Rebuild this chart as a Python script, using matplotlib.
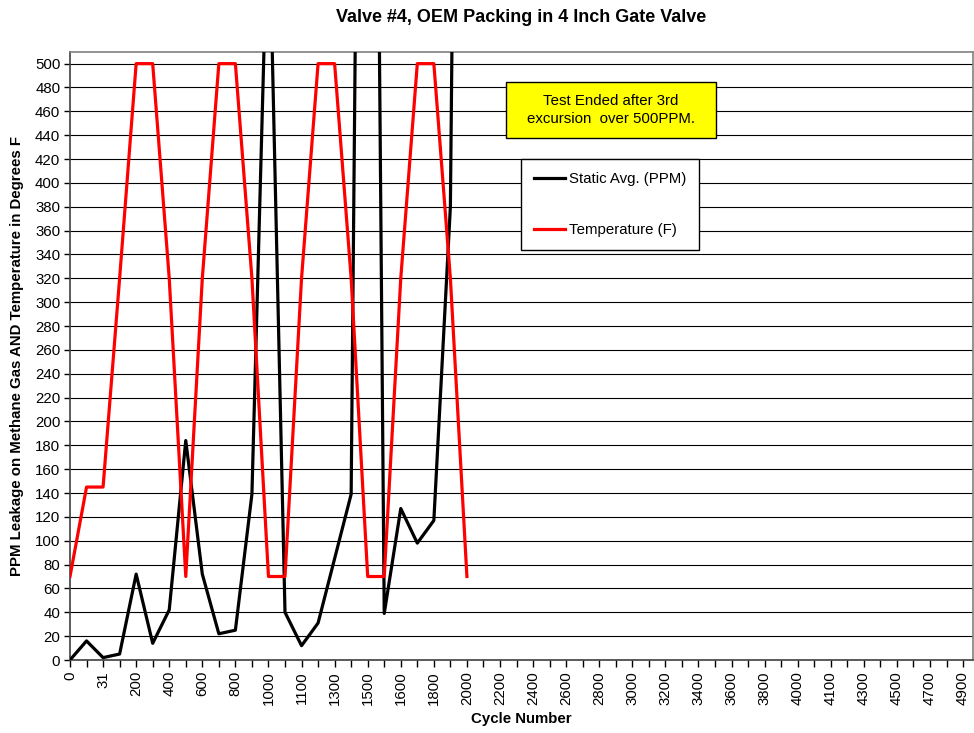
import numpy as np
import matplotlib
matplotlib.use('Agg')
import matplotlib.pyplot as plt
from matplotlib.patches import Rectangle

plt.rcParams['font.family'] = ['Liberation Sans', 'DejaVu Sans']

# category labels along the x axis (every other one is shown)
cycles = ['0', '15', '31', '100', '200', '300', '400', '500', '600', '700',
          '800', '900', '1000', '1050', '1100', '1200', '1300', '1400', '1500', '1550',
          '1600', '1700', '1800', '1900', '2000', '2100', '2200', '2300', '2400', '2500',
          '2600', '2700', '2800', '2900', '3000', '3100', '3200', '3300', '3400', '3500',
          '3600', '3700', '3800', '3900', '4000', '4050', '4100', '4200', '4300', '4400',
          '4500', '4600', '4700', '4800', '4900']

static_avg = [0, 16, 2, 5, 72, 14, 42, 184, 72, 22,
              25, 139, 650, 40, 12, 31, 85, 139, 1670, 39,
              127, 98, 117, 380, 1800]
temperature = [70, 145, 145, 320, 500, 500, 320, 70, 320, 500,
               500, 320, 70, 70, 320, 500, 500, 320, 70, 70,
               320, 500, 500, 320, 70]

FS = 10.8
W, H = 974, 733
fig = plt.figure(figsize=(W/100, H/100), dpi=100)
ax = fig.add_axes([70/W, (H-660)/H, (973-70)/W, (660-51.7)/H])

x = np.arange(len(static_avg))
ax.plot(x, static_avg, color='black', lw=2.3, label='Static Avg. (PPM)', zorder=3)
ax.plot(x, temperature, color='#ff0000', lw=2.3, label='Temperature (F)', zorder=3)

ax.set_xlim(0, 54.6)
ax.set_ylim(0, 510)
ax.set_yticks(np.arange(0, 501, 20))
ax.yaxis.grid(True, color='black', lw=0.8)
ax.set_axisbelow(True)

ax.set_xticks(np.arange(len(cycles)))
ax.set_xticklabels([c if i % 2 == 0 else '' for i, c in enumerate(cycles)],
                   rotation=90, fontsize=FS)
ax.tick_params(axis='y', labelsize=FS, length=4, width=1, direction='out', pad=3)
ax.tick_params(axis='x', length=5, width=1, direction='out', pad=3)

for s in ['top', 'right']:
    ax.spines[s].set_color('#808080')
ax.spines['left'].set_color('#404040')
ax.spines['bottom'].set_color('#404040')
for s in ax.spines.values():
    s.set_linewidth(1.2)

ax.set_xlabel('Cycle Number', fontsize=FS, fontweight='bold', labelpad=5)
ax.set_ylabel('PPM Leakage on Methane Gas AND Temperature in Degrees F',
              fontsize=FS, fontweight='bold', labelpad=8)
fig.text(521/W, 1-17/H, 'Valve #4, OEM Packing in 4 Inch Gate Valve',
         ha='center', va='center', fontsize=13, fontweight='bold')

leg = ax.legend(loc='upper left', bbox_to_anchor=(521/W, 1-159.3/H),
                bbox_transform=fig.transFigure, fontsize=FS, frameon=True,
                fancybox=False, framealpha=1, edgecolor='black',
                handlelength=2.1, handletextpad=0.25, borderpad=0.85,
                labelspacing=2.45, borderaxespad=0)
leg.get_frame().set_linewidth(1)

box = Rectangle((505.7/W, 1-138.3/H), 210/W, 56/H, transform=fig.transFigure,
                facecolor='#ffff00', edgecolor='black', lw=1, zorder=5)
fig.patches.append(box)
fig.text(610.7/W, 1-110.3/H, 'Test Ended after 3rd\nexcursion  over 500PPM.',
         ha='center', va='center', fontsize=FS, linespacing=1.35, zorder=6)

fig.savefig('out.png', dpi=100)
